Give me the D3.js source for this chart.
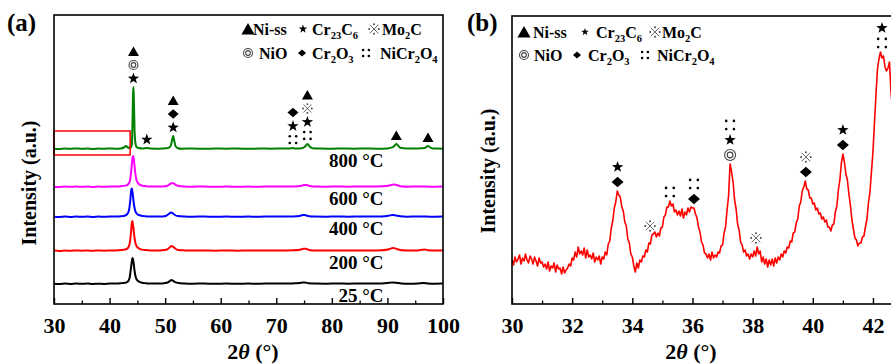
<!DOCTYPE html>
<html>
<head>
<meta charset="utf-8">
<script src="https://cdn.jsdelivr.net/npm/d3@7"></script>
<style>
  body { margin: 0; background: #fff; }
  svg { display: block; }
</style>
</head>
<body>
<svg id="fig" width="891" height="364"></svg>
<script>
// ---------------- data ----------------
// (a) XRD patterns after exposure at each temperature: [2θ, intensity]
const tempLabels = ["25 °C", "200 °C", "400 °C", "600 °C", "800 °C"];
const stackOffsets = [20, 53, 87, 117, 155];

const s25 = [[30,0.3],[31,0],[32,0.4],[33,0.1],[34,0.5],[35,0.2],[36,0.4],[37,0],[38,0.3],[39,0.1],[40,0.4],[41,0.5],[42,0.8],[42.8,1.2],[43.3,2.5],[43.6,6],[43.85,16],[44.05,24],[44.15,26],[44.3,22],[44.5,13],[44.7,7],[44.95,4],[45.3,2.3],[45.8,1.3],[46.5,0.8],[47.5,0.5],[48.5,0.4],[49.5,0.6],[50.3,1.2],[50.8,2.8],[51.1,4],[51.4,3.4],[51.8,1.8],[52.4,0.9],[53.5,0.5],[55,0.3],[57,0.5],[59,0.2],[61,0.4],[63,0.2],[65,0.4],[67,0.3],[69,0.5],[71,0.4],[73,0.6],[74.2,1],[74.8,1.6],[75.2,1.5],[75.8,0.8],[77,0.4],[79,0.3],[81,0.5],[83,0.3],[85,0.5],[87,0.4],[89,0.6],[90.3,1.2],[91,1.6],[91.6,1.2],[92.5,0.5],[94,0.3],[95.5,0.5],[96.5,0.9],[97.3,0.5],[98.5,0.3],[100,0.4]];

const s200 = [[30,0.4],[31,0.1],[32,0.5],[33,0.2],[34,0.6],[35,0.3],[36,0.5],[37,0.2],[38,0.6],[39,0.3],[40,0.5],[41,0.6],[42,0.9],[42.8,1.4],[43.3,3],[43.6,7],[43.85,18],[44.0,28],[44.1,30],[44.25,25],[44.45,15],[44.65,8],[44.9,4.5],[45.3,2.5],[45.8,1.4],[46.5,0.9],[47.5,0.6],[48.5,0.5],[49.5,0.7],[50.3,1.5],[50.8,3.5],[51.15,5],[51.45,4.2],[51.85,2.2],[52.4,1],[53.5,0.6],[55,0.4],[57,0.6],[59,0.3],[61,0.5],[63,0.3],[65,0.5],[67,0.4],[69,0.6],[71,0.5],[73,0.7],[74.3,1.3],[74.9,2.3],[75.3,2.2],[75.9,1.1],[77,0.5],[79,0.4],[81,0.6],[83,0.4],[85,0.6],[87,0.5],[89,0.8],[90.3,1.8],[91.0,3],[91.5,2.4],[92.3,0.9],[93.5,0.4],[95.5,0.6],[96.3,1.3],[96.7,1.5],[97.3,0.7],[98.5,0.4],[100,0.5]];

const s400 = [[30,0.3],[31,0.1],[32,0.4],[33,0.1],[34,0.5],[35,0.2],[36,0.4],[37,0.1],[38,0.5],[39,0.2],[40,0.4],[41,0.5],[42,0.8],[42.7,1.3],[43.2,3],[43.5,7],[43.75,18],[43.9,27],[44.0,28.5],[44.15,24],[44.35,14],[44.55,7.5],[44.8,4],[45.2,2.2],[45.7,1.3],[46.4,0.8],[47.5,0.5],[48.5,0.4],[49.5,0.6],[50.2,1.3],[50.7,3.2],[51.05,4.5],[51.35,3.8],[51.75,2],[52.3,0.9],[53.5,0.5],[55,0.3],[57,0.5],[59,0.2],[61,0.4],[63,0.2],[65,0.4],[67,0.3],[69,0.5],[71,0.4],[73,0.6],[74.2,1.1],[74.8,2],[75.1,1.9],[75.7,1],[77,0.4],[79,0.3],[81,0.5],[83,0.3],[85,0.5],[87,0.4],[89,0.6],[90.2,1.3],[90.9,2],[91.5,1.6],[92.3,0.7],[93.5,0.3],[95.5,0.5],[97,0.4],[98.5,0.3],[100,0.4]];

const s600 = [[30,0.3],[31,0.1],[32,0.4],[33,0.2],[34,0.5],[35,0.2],[36,0.4],[37,0.1],[38,0.5],[39,0.2],[40,0.4],[41,0.5],[42,0.8],[42.9,1.4],[43.4,3],[43.7,7],[43.95,19],[44.12,29],[44.25,31],[44.4,26],[44.6,15],[44.8,8],[45.05,4.5],[45.4,2.4],[45.9,1.3],[46.6,0.8],[47.5,0.5],[48.5,0.4],[49.5,0.6],[50.4,1.3],[50.9,3],[51.3,4],[51.6,3.4],[52,1.8],[52.5,0.9],[53.5,0.5],[55,0.3],[57,0.5],[59,0.2],[61,0.4],[63,0.2],[65,0.4],[67,0.3],[69,0.5],[71,0.4],[73,0.6],[74.4,1.1],[75.0,1.9],[75.4,2],[76.0,1],[77,0.4],[79,0.3],[81,0.5],[83,0.3],[85,0.5],[87,0.4],[89,0.7],[90.4,1.5],[91.1,2.5],[91.6,2],[92.4,0.8],[93.5,0.3],[95.5,0.5],[97,0.4],[98.5,0.3],[100,0.4]];

const s800 = [[30,0.3],[31,0],[32,0.4],[33,0.2],[34,0.6],[35,0.2],[36,0.4],[37,0.1],[38,0.5],[39,0.2],[40,0.6],[41,0.3],[42,0.6],[42.6,1.5],[42.95,3],[43.3,1.5],[43.7,1],[44.0,4],[44.12,25],[44.22,55],[44.3,62],[44.38,48],[44.5,18],[44.65,6],[44.85,2],[45.2,1],[46,0.5],[46.7,0.9],[47.4,0.4],[48.5,0.3],[49.5,0.5],[50.5,1],[51,3],[51.25,9],[51.45,13],[51.65,8],[51.9,2.5],[52.3,0.8],[53,0.3],[55,0.5],[57,0.2],[59,0.5],[61,0.3],[63,0.5],[65,0.2],[67,0.5],[69,0.3],[71,0.5],[72.5,0.6],[72.9,0.9],[73.4,0.5],[74.6,0.8],[75.2,2.5],[75.6,5],[76.0,2.5],[76.5,0.8],[78,0.4],[80,0.3],[82,0.5],[84,0.3],[86,0.5],[88,0.3],[90,0.6],[91.0,1.8],[91.3,3.5],[91.6,5],[91.9,3.5],[92.3,1.2],[93.5,0.4],[95.5,0.5],[96.7,1],[97.1,2.5],[97.3,3],[97.6,2],[98.1,0.6],[99,0.4],[100,0.3]];

const seriesA = [s25, s200, s400, s600, s800];
const seriesColors = ["#000000", "#ff0000", "#0000ff", "#ff00ff", "#008000"];

// phase assignments of the 800 °C reflections (bottom to top)
const peaksA_t = [44.3, 46.7, 51.45, 73.0, 75.6, 91.6, 97.3];
const peaksA_phases = [["star","nio","tri"], ["star"], ["star","dia","tri"], ["spn","star","dia"], ["spn","star","mo2c","tri"], ["tri"], ["tri"]];

// 2θ window enlarged in panel (b)
const zoomWindow = [30, 43.7];

// (b) 800 °C scan, 30–42.8°, step 0.05°
const theta0B = 30, stepB = 0.05;
const countsB = [
  44,39,47,42,45,49,40,46,43,50,44,41,48,45,40,47,43,38,46,41,
  42,37,40,35,42,33,38,36,41,32,39,35,36,30,37,31,34,36,40,38,
  46,44,52,47,57,50,53,49,56,46,54,47,49,45,51,42,47,44,48,40,
  47,45,52,49,60,63,76,83,96,102,113,109,107,97,93,82,78,65,61,50,
  47,38,32,41,36,44,42,48,47,54,52,61,60,69,70,72,67,71,68,76,
  77,87,89,97,97,103,98,100,92,94,89,93,88,95,86,92,89,96,92,97,
  96,96,90,86,77,72,62,59,51,50,46,50,44,52,46,49,47,52,51,58,
  59,71,77,94,108,140,132,122,104,95,80,74,62,59,52,54,48,50,45,50,
  47,53,48,57,50,53,42,47,40,45,37,44,39,45,38,46,41,47,44,50,
  47,53,51,57,56,63,62,71,72,81,85,98,102,113,117,123,115,114,106,106,
  100,101,94,96,90,91,85,87,82,84,77,77,73,79,80,92,98,114,124,141,
  150,142,130,124,110,99,84,75,66,64,58,61,61,67,68,77,85,101,112,132,
  152,181,209,235,245,252,246,248,237,233,236,242,212,195,172,155,135
];
const peaksB_t = [33.51, 34.59, 35.25, 36.05, 37.25, 38.11, 39.77, 41.0, 42.3];
const peaksB_phases = [["dia","star"], ["mo2c"], ["spn"], ["dia","spn"], ["nio","star","spn"], ["mo2c"], ["dia","mo2c"], ["dia","star"], ["spn","star"]];

// axis ticks
const xMajorA = [30, 40, 50, 60, 70, 80, 90, 100];
const xMinorA = [35, 45, 55, 65, 75, 85, 95];
const xMajorB = [30, 32, 34, 36, 38, 40, 42];
const xMinorB = [31, 33, 35, 37, 39, 41, 43];

// legend: symbol + name parts ([text, subscript?])
const legendSymbols = ["tri", "star", "mo2c", "nio", "dia", "spn"];
const legendNames = [
  [["Ni-ss", 0]],
  [["Cr", 0], ["23", 1], ["C", 0], ["6", 1]],
  [["Mo", 0], ["2", 1], ["C", 0]],
  [["NiO", 0]],
  [["Cr", 0], ["2", 1], ["O", 0], ["3", 1]],
  [["NiCr", 0], ["2", 1], ["O", 0], ["4", 1]]
];

// ---------------- drawing ----------------
const serif = '"Liberation Serif","Times New Roman",serif';
const svg = d3.select("#fig");

const xA = d3.scaleLinear().domain([30, 100]).range([54, 443]);
const yA = d3.scaleLinear().domain([0, 289]).range([304, 15]);
const xB = d3.scaleLinear().domain([30, 43]).range([512, 512 + 13 * 30.08]);
const yB = d3.scaleLinear().domain([0, 288]).range([304, 16]);

function txt(g, x, y, s, size) {
  return g.append("text").attr("x", x).attr("y", y)
    .attr("font-family", serif).attr("font-weight", "bold")
    .attr("font-size", size).attr("fill", "#000").text(s);
}

// phase symbols
function mark(g, type, cx, cy, s) {
  if (type === "tri") {
    g.append("path").attr("d", `M${cx},${cy - s * 0.5}L${cx + s * 0.55},${cy + s * 0.45}L${cx - s * 0.55},${cy + s * 0.45}Z`).attr("fill", "#000");
  } else if (type === "star") {
    const R = s / 2, r = R * 0.4, pts = [];
    for (let i = 0; i < 10; i++) {
      const a = -Math.PI / 2 + i * Math.PI / 5, rr = i % 2 ? r : R;
      pts.push([cx + rr * Math.cos(a), cy + rr * Math.sin(a)]);
    }
    g.append("path").attr("d", "M" + pts.join("L") + "Z").attr("fill", "#000");
  } else if (type === "dia") {
    const w = s / 2, h = s * 0.43;
    g.append("path").attr("d", `M${cx},${cy - h}L${cx + w},${cy}L${cx},${cy + h}L${cx - w},${cy}Z`).attr("fill", "#000");
  } else if (type === "nio") {
    g.append("circle").attr("cx", cx).attr("cy", cy).attr("r", s / 2).attr("fill", "none").attr("stroke", "#444").attr("stroke-width", 1.1);
    g.append("circle").attr("cx", cx).attr("cy", cy).attr("r", s * 0.26).attr("fill", "none").attr("stroke", "#444").attr("stroke-width", 1.1);
  } else if (type === "mo2c") {
    const d = s * 0.36;
    g.append("path").attr("d", `M${cx - d},${cy - d}L${cx + d},${cy + d}M${cx + d},${cy - d}L${cx - d},${cy + d}`).attr("stroke", "#555").attr("stroke-width", 0.9);
    [[0, -1], [0, 1], [-1, 0], [1, 0]].forEach(([a, b]) =>
      g.append("circle").attr("cx", cx + a * s * 0.4).attr("cy", cy + b * s * 0.4).attr("r", 0.95).attr("fill", "#444"));
  } else if (type === "spn") {
    const dx = s * 0.32, dy = s * 0.34;
    [[-1, -1], [1, -1], [-1, 1], [1, 1]].forEach(([a, b]) =>
      g.append("circle").attr("cx", cx + a * dx).attr("cy", cy + b * dy).attr("r", 1.3).attr("fill", "#000"));
  }
}

function bottomAxis(g, x, y0, major, minor) {
  const ax = g.append("g").attr("transform", `translate(0,${y0})`)
    .call(d3.axisBottom(x).tickValues(major).tickSize(-6).tickPadding(13).tickFormat(d3.format("d")));
  ax.select(".domain").remove();
  ax.selectAll("line").attr("stroke", "#000").attr("stroke-width", 1.4);
  ax.selectAll("text").attr("font-family", serif).attr("font-weight", "bold").attr("font-size", 22).attr("fill", "#000");
  const mn = g.append("g").attr("transform", `translate(0,${y0})`)
    .call(d3.axisBottom(x).tickValues(minor).tickSize(-3.5).tickFormat(""));
  mn.select(".domain").remove();
  mn.selectAll("line").attr("stroke", "#000").attr("stroke-width", 1.3);
}

function axisTitles(g, cx) {
  const t = g.append("text").attr("x", cx).attr("y", 359).attr("text-anchor", "middle")
    .attr("font-family", serif).attr("font-weight", "bold").attr("font-size", 22).attr("fill", "#000");
  t.append("tspan").text("2");
  t.append("tspan").attr("font-style", "italic").text("θ");
  t.append("tspan").text(" (°)");
}

function yTitle(g, x, y) {
  g.append("text").attr("transform", `translate(${x},${y}) rotate(-90)`)
    .attr("text-anchor", "middle").attr("dominant-baseline", "central")
    .attr("font-family", serif).attr("font-weight", "bold").attr("font-size", 20)
    .attr("fill", "#000").text("Intensity (a.u.)");
}

function legend(g, y0, symX, textX, rowGap, sizes) {
  legendSymbols.forEach((sym, i) => {
    const row = Math.floor(i / 3), col = i % 3;
    const cy = y0 + row * rowGap;
    mark(g, sym, symX[row][col], cy, sizes[i]);
    const t = g.append("text").attr("x", textX[row][col]).attr("y", cy + 5.5)
      .attr("font-family", serif).attr("font-weight", "bold").attr("font-size", 16).attr("fill", "#000");
    let sub = false;
    legendNames[i].forEach(([s, isSub]) => {
      const sp = t.append("tspan").text(s);
      if (isSub && !sub) { sp.attr("dy", 4).attr("font-size", 10.5); sub = true; }
      else if (isSub) { sp.attr("font-size", 10.5); }
      else if (sub) { sp.attr("dy", -4); sub = false; }
    });
  });
}

// ---------- panel (a) ----------
const gA = svg.append("g");
const lineA = (off) => d3.line().x(d => xA(d[0])).y(d => yA(d[1] + off)).curve(d3.curveMonotoneX);

seriesA.forEach((s, i) => {
  gA.append("path").datum(s).attr("d", lineA(stackOffsets[i]))
    .attr("fill", "none").attr("stroke", seriesColors[i]).attr("stroke-width", 2)
    .attr("stroke-linejoin", "round");
  txt(gA, xA(89.3), yA(stackOffsets[i]) + 18, tempLabels[i], 19).attr("text-anchor", "end");
});

// enlarged window marker
const off800 = stackOffsets[4];
gA.append("rect")
  .attr("x", xA(zoomWindow[0])).attr("y", yA(off800 + 18))
  .attr("width", xA(zoomWindow[1]) - xA(zoomWindow[0]))
  .attr("height", yA(off800 - 6) - yA(off800 + 18))
  .attr("fill", "none").attr("stroke", "#ff0000").attr("stroke-width", 1.5);

// phase markers above the 800 °C pattern
peaksA_t.forEach((t, i) => {
  const near = s800.filter(d => Math.abs(d[0] - t) <= 0.35);
  const top = yA(off800 + (near.length ? d3.max(near, d => d[1]) : 0));
  const sizes = { tri: 10, star: 12, dia: 11, nio: 9, mo2c: 11, spn: 10 };
  peaksA_phases[i].forEach((p, k) => mark(gA, p, xA(t), top - 8.5 - k * 13.5, sizes[p]));
});

gA.append("rect").attr("x", 54).attr("y", 15).attr("width", 443 - 54).attr("height", 304 - 15)
  .attr("fill", "none").attr("stroke", "#000").attr("stroke-width", 1.6);
bottomAxis(gA, xA, 304, xMajorA, xMinorA);
axisTitles(gA, 253);
yTitle(gA, 29, 183);
txt(gA, 7, 30.5, "(a)", 25);
legend(gA, 29, [[248, 303, 374], [248, 302, 366]], [[253, 312, 382], [259, 312, 380]], 24,
  [12, 9, 12, 9, 8, 9]);

// ---------- panel (b) ----------
const gB = svg.append("g");
const lineB = d3.line().x((d, i) => xB(theta0B + i * stepB)).y(d => yB(d));
gB.append("path").datum(countsB).attr("d", lineB)
  .attr("fill", "none").attr("stroke", "#ff0000").attr("stroke-width", 1.6).attr("stroke-linejoin", "round");

peaksB_t.forEach((t, i) => {
  const i0 = Math.round((t - theta0B) / stepB);
  const top = yB(d3.max(countsB.slice(Math.max(0, i0 - 1), i0 + 2)));
  const sizes = { tri: 11, star: 12, dia: 12, nio: 11, mo2c: 12, spn: 12 };
  peaksB_phases[i].forEach((p, k) => mark(gB, p, xB(t), top - 9 - k * 15, sizes[p]));
});

gB.append("rect").attr("x", 512).attr("y", 16).attr("width", xB(43) - 512).attr("height", 304 - 16)
  .attr("fill", "none").attr("stroke", "#000").attr("stroke-width", 1.6);
bottomAxis(gB, xB, 304, xMajorB, xMinorB);
axisTitles(gB, 691);
yTitle(gB, 488, 171);
txt(gB, 467, 30.5, "(b)", 25);
legend(gB, 32, [[524, 585, 655], [524, 577, 645]], [[533, 596, 662], [534, 588, 657]], 23,
  [12, 8, 12, 9, 8, 9]);
</script>
</body>
</html>
